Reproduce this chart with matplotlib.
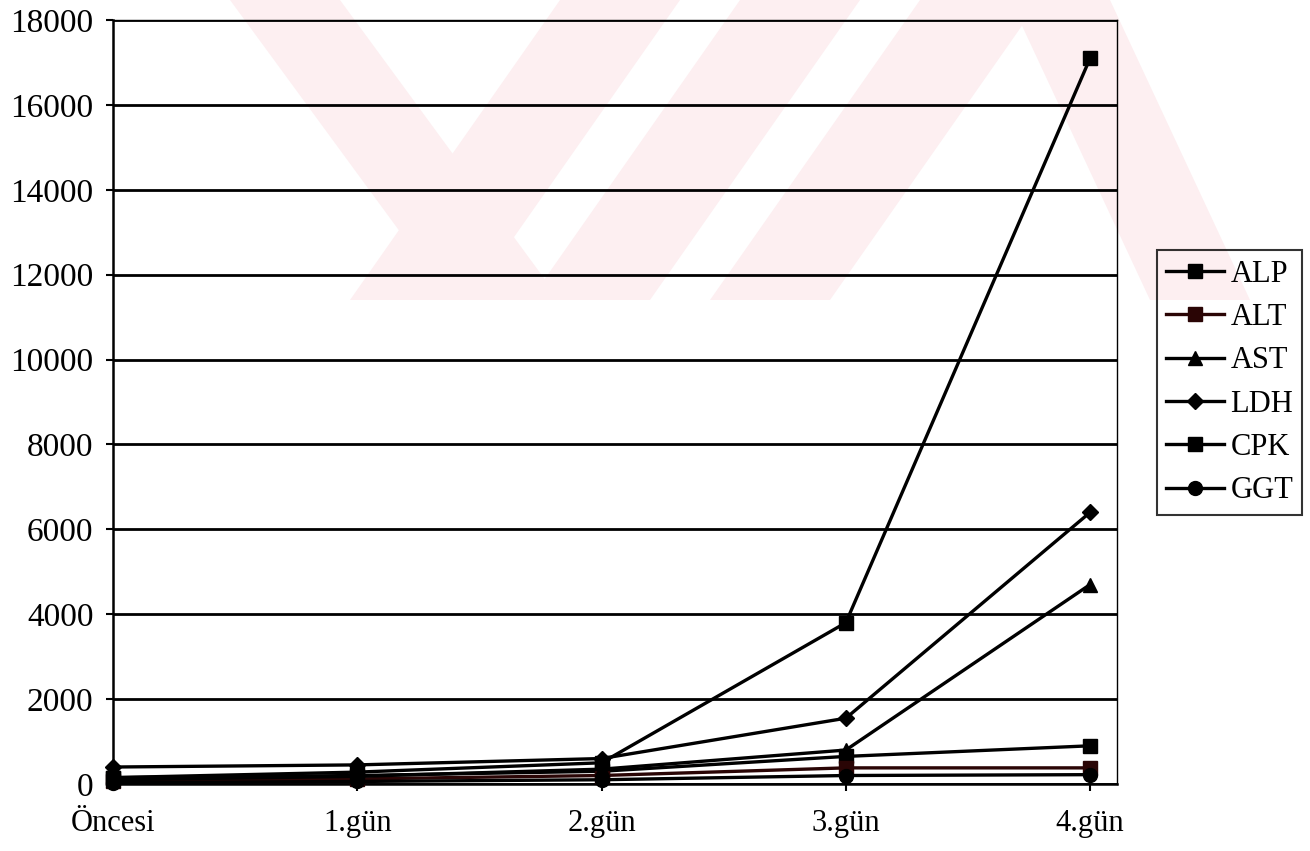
import numpy as np
import matplotlib.pyplot as plt
from matplotlib.patches import Polygon

plt.rcParams['font.family'] = ['Liberation Serif', 'DejaVu Serif']

# categories and enzyme values
days = ['Öncesi', '1.gün', '2.gün', '3.gün', '4.gün']
alp = [150, 200, 300, 650, 900]
alt = [60, 120, 200, 380, 380]
ast = [100, 180, 350, 800, 4700]
ldh = [400, 450, 600, 1550, 6400]
cpk = [150, 280, 500, 3800, 17100]
ggt = [30, 60, 100, 200, 220]

series = [
    ('ALP', alp, 's', 'black'),
    ('ALT', alt, 's', '#2a0505'),
    ('AST', ast, '^', 'black'),
    ('LDH', ldh, 'D', 'black'),
    ('CPK', cpk, 's', 'black'),
    ('GGT', ggt, 'o', 'black'),
]

W, H = 1310, 851
fig = plt.figure(figsize=(W / 100, H / 100), dpi=100)

# faint pink watermark of the scanned page, rough shape, in pixel coords
bg = fig.add_axes([0, 0, 1, 1], zorder=-1)
bg.set_xlim(0, W)
bg.set_ylim(H, 0)
bg.axis('off')
wm = [
    [(230, 0), (340, 0), (560, 300), (450, 300)],
    [(560, 0), (680, 0), (470, 300), (350, 300)],
    [(740, 0), (860, 0), (650, 300), (530, 300)],
    [(920, 0), (1040, 0), (830, 300), (710, 300)],
    [(1010, 0), (1110, 0), (1250, 300), (1150, 300)],
]
for pts in wm:
    bg.add_patch(Polygon(pts, closed=True, facecolor='#fdeff1', edgecolor='none'))

ax = fig.add_axes([113 / W, 1 - 784 / H, (1117 - 113) / W, (784 - 20) / H])
ax.set_facecolor('none')

x = np.arange(len(days))
for name, vals, mk, col in series:
    ms = 8 if mk == 'D' else 10
    ax.plot(x, vals, color=col, lw=2.4, marker=mk, ms=ms, mfc=col, mec=col,
            label=name, clip_on=False, zorder=3)

ax.set_xlim(0, 4.11)
ax.set_ylim(0, 18000)
ax.set_yticks(np.arange(0, 18001, 2000))
ax.set_xticks(x)
ax.set_xticklabels(days)
ax.yaxis.grid(True, color='black', lw=2.0)
ax.set_axisbelow(True)

for s in ['top', 'right']:
    ax.spines[s].set_linewidth(1.0)
ax.spines['left'].set_linewidth(1.8)
ax.spines['bottom'].set_linewidth(1.8)
ax.tick_params(axis='both', direction='out', length=5, width=1.5, colors='black')
ax.tick_params(axis='y', labelsize=24, pad=9)
ax.tick_params(axis='x', labelsize=22, pad=13)

leg = fig.legend(loc='center left', bbox_to_anchor=(1157 / W, 0.5505), fontsize=22,
                 frameon=True, fancybox=False, edgecolor='black', facecolor='none',
                 framealpha=None, handlelength=1.9, handletextpad=0.2,
                 labelspacing=0.47, borderpad=0.3, borderaxespad=0)
leg.get_frame().set_linewidth(1.5)

fig.savefig('out.png', dpi=100)
